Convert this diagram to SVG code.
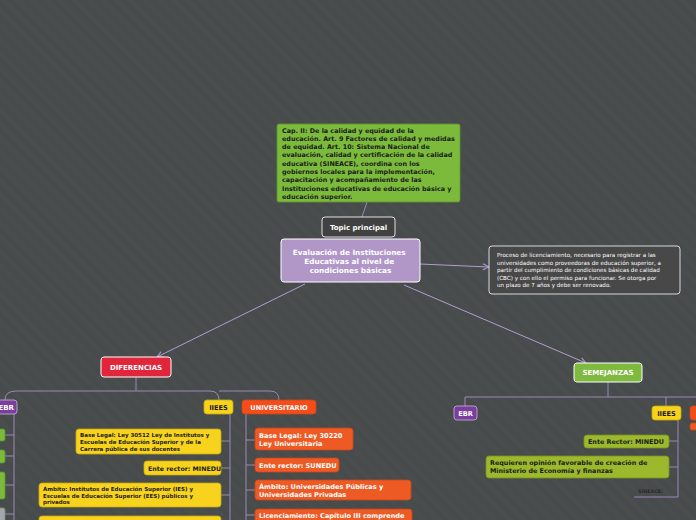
<svg xmlns="http://www.w3.org/2000/svg" width="696" height="520" viewBox="0 0 696 520">
<defs>
<pattern id="bg" width="10" height="10" patternUnits="userSpaceOnUse" patternTransform="rotate(-45)">
<rect width="10" height="10" fill="#474b4c"/>
<rect width="5" height="10" fill="#494d4e"/>
</pattern>
<marker id="arr" markerWidth="8" markerHeight="8" refX="7" refY="4" orient="auto" markerUnits="userSpaceOnUse">
<path d="M1,1 L7,4 L1,7" fill="none" stroke="#b39cd0" stroke-width="1"/>
</marker>
<style>
.t{font-family:"DejaVu Sans",Verdana,sans-serif;font-weight:bold}
.r{font-family:"DejaVu Sans",Verdana,sans-serif}
.w{fill:#ffffff}
.k{fill:#1a1a1a}
.c{fill:none;stroke:#9c88b4;stroke-width:1}
.ca{fill:none;stroke:#b39cd0;stroke-width:1}
.yel{fill:#f7d31d;stroke:#c9a80e;stroke-width:0.8}
.org{fill:#ee5a24;stroke:#c8461a;stroke-width:0.8}
.grn{fill:#7cba3c;stroke:#5e9427;stroke-width:0.8}
.olv{fill:#9cb82c;stroke:#7a921b;stroke-width:0.8}
.pur{fill:#7a3e9d;stroke:#c9b6dc;stroke-width:0.8}
</style>
</defs>
<rect width="696" height="520" fill="url(#bg)"/>

<g id="connectors">
<path class="c" d="M367,202 L362,217"/>
<path class="ca" d="M420,264 L489,267" marker-end="url(#arr)"/>
<path class="ca" d="M305,284 L157,357" marker-end="url(#arr)"/>
<path class="ca" d="M404,285 L586,363" marker-end="url(#arr)"/>
<path class="c" d="M136,377 V391"/>
<path class="c" d="M5,400 Q5,391 16,391 H210 Q219,391 219,400"/>
<path class="c" d="M219,391 H270 Q279,391 279,400"/>
<path class="c" d="M14,414 V520"/>
<path class="c" d="M5,435 H14 M5,456 H14 M5,485 H14 M5,514 H14"/>
<path class="c" d="M230,414 V520"/>
<path class="c" d="M221,441 H230 M221,468 H230 M221,495 H230"/>
<path class="c" d="M246,414 V520"/>
<path class="c" d="M246,440 H255 M246,465 H255 M246,490 H255 M246,515 H255"/>
<path class="c" d="M608,382 V397"/>
<path class="c" d="M465,406 V397 H696"/>
<path class="c" d="M666,397 V406"/>
<path class="c" d="M678,420 V497 H634"/>
<path class="c" d="M669,441 H678 M669,467 H678"/>
</g>

<g id="cap">
<rect x="277" y="124" width="183" height="78" rx="2" fill="#7cba3c" stroke="#5e9427" stroke-width="0.8"/>
<text class="t k" font-size="6.4">
<tspan x="282" y="132.5">Cap. II: De la calidad y equidad de la</tspan>
<tspan x="282" y="140.8">educación. Art. 9 Factores de calidad y medidas</tspan>
<tspan x="282" y="149.1">de equidad. Art. 10: Sistema Nacional de</tspan>
<tspan x="282" y="157.4">evaluación, calidad y certificación de la calidad</tspan>
<tspan x="282" y="165.7">educativa (SINEACE), coordina con los</tspan>
<tspan x="282" y="174">gobiernos locales para la implementación,</tspan>
<tspan x="282" y="182.3">capacitación y acompañamiento de las</tspan>
<tspan x="282" y="190.6">Instituciones educativas de educación básica y</tspan>
<tspan x="282" y="198.9">educación superior.</tspan>
</text>
</g>

<g id="topic">
<rect x="322" y="217" width="73" height="20" rx="3" fill="#414141" stroke="#e0e0e0" stroke-width="1"/>
<text class="t w" font-size="7" x="358.5" y="230" text-anchor="middle">Topic principal</text>
</g>

<g id="main">
<rect x="281" y="239" width="139" height="43" rx="3" fill="#b197c8" stroke="#ffffff" stroke-width="1"/>
<text class="t w" font-size="7.3" text-anchor="middle">
<tspan x="350.5" y="255">Evaluación de Instituciones</tspan>
<tspan x="350.5" y="264">Educativas al nivel de</tspan>
<tspan x="350.5" y="273">condiciones básicas</tspan>
</text>
</g>

<g id="nota">
<rect x="489" y="246" width="191" height="48" rx="3" fill="#484848" stroke="#d8d8d8" stroke-width="1"/>
<text class="r w" font-size="5.6">
<tspan x="497" y="257">Proceso de licenciamiento, necesario para registrar a las</tspan>
<tspan x="497" y="264.5">universidades como proveedoras de educación superior, a</tspan>
<tspan x="497" y="272">partir del cumplimiento de condiciones básicas de calidad</tspan>
<tspan x="497" y="279.5">(CBC) y con ello el permiso para funcionar. Se otorga por</tspan>
<tspan x="497" y="287">un plazo de 7 años y debe ser renovado.</tspan>
</text>
</g>

<g id="diferencias">
<rect x="101" y="357" width="70" height="20" rx="3" fill="#e1253a" stroke="#ffffff" stroke-width="1"/>
<text class="t w" font-size="7" x="136" y="369.5" text-anchor="middle">DIFERENCIAS</text>
</g>

<g id="semejanzas">
<rect x="574" y="363" width="68" height="19" rx="3" fill="#80b940" stroke="#ffffff" stroke-width="1"/>
<text class="t w" font-size="7" x="608" y="375" text-anchor="middle">SEMEJANZAS</text>
</g>

<g id="ebr-dif">
<rect x="-6" y="400" width="23" height="14" rx="3" class="pur"/>
<text class="t w" font-size="7" x="14" y="410" text-anchor="end">EBR</text>
</g>
<g id="ebr-dif-1"><rect x="-6" y="429" width="11" height="12" rx="2" class="grn"/></g>
<g id="ebr-dif-2"><rect x="-6" y="450" width="11" height="13" rx="2" class="grn"/></g>
<g id="ebr-dif-3"><rect x="-6" y="472" width="11" height="27" rx="2" class="grn"/></g>
<g id="ebr-dif-4"><rect x="-6" y="508" width="11" height="16" rx="2" fill="#a3a8ab" stroke="#80868a" stroke-width="0.8"/></g>

<g id="iiees-dif">
<rect x="204" y="400" width="29" height="14" rx="3" class="yel"/>
<text class="t k" font-size="6.6" x="218.5" y="410" text-anchor="middle">IIEES</text>
</g>
<g id="iiees-dif-1">
<rect x="76" y="429" width="145" height="25" rx="3" class="yel"/>
<text class="t k" font-size="5.5">
<tspan x="80" y="437">Base Legal: Ley 30512 Ley de Institutos y</tspan>
<tspan x="80" y="444">Escuelas de Educación Superior y de la</tspan>
<tspan x="80" y="451">Carrera pública de sus docentes</tspan>
</text>
</g>
<g id="iiees-dif-2">
<rect x="144" y="461" width="77" height="14" rx="3" class="yel"/>
<text class="t k" font-size="6.3" x="148" y="470.5">Ente rector: MINEDU</text>
</g>
<g id="iiees-dif-3">
<rect x="39" y="483" width="182" height="24" rx="3" class="yel"/>
<text class="t k" font-size="5.5">
<tspan x="43" y="491">Ámbito: Institutos de Educación Superior (IES) y</tspan>
<tspan x="43" y="497.5">Escuelas de Educación Superior (EES) públicos y</tspan>
<tspan x="43" y="504">privados</tspan>
</text>
</g>
<g id="iiees-dif-4">
<rect x="39" y="516" width="182" height="10" rx="3" class="yel"/>
</g>

<g id="univ">
<rect x="242" y="400" width="74" height="14" rx="3" class="org" style="fill:#f44d1a"/>
<text class="t w" font-size="6.6" x="279" y="410" text-anchor="middle">UNIVERSITARIO</text>
</g>
<g id="univ-1">
<rect x="255" y="428" width="98" height="22" rx="3" class="org"/>
<text class="t w" font-size="6.6">
<tspan x="259" y="437.5">Base Legal: Ley 30220</tspan>
<tspan x="259" y="445.5">Ley Universitaria</tspan>
</text>
</g>
<g id="univ-2">
<rect x="255" y="458" width="84" height="14" rx="3" class="org"/>
<text class="t w" font-size="6.6" x="259" y="467.5">Ente rector: SUNEDU</text>
</g>
<g id="univ-3">
<rect x="255" y="480" width="156" height="20" rx="3" class="org"/>
<text class="t w" font-size="6.6">
<tspan x="259" y="488.5">Ámbito: Universidades Públicas y</tspan>
<tspan x="259" y="496.5">Universidades Privadas</tspan>
</text>
</g>
<g id="univ-4">
<rect x="255" y="509" width="157" height="16" rx="3" class="org"/>
<text class="t w" font-size="6.6" x="259" y="518">Licenciamiento: Capítulo III comprende</text>
</g>

<g id="ebr-sem">
<rect x="454" y="406" width="23" height="14" rx="3" class="pur"/>
<text class="t w" font-size="6.6" x="465.5" y="416" text-anchor="middle">EBR</text>
</g>
<g id="iiees-sem">
<rect x="652" y="406" width="29" height="14" rx="3" class="yel"/>
<text class="t k" font-size="6.6" x="666.5" y="416" text-anchor="middle">IIEES</text>
</g>
<g id="univ-sem">
<rect x="690" y="406" width="12" height="14" rx="3" class="org" style="fill:#f44d1a"/>
<rect x="690" y="423" width="12" height="7" rx="2" class="org"/>
</g>
<g id="iiees-sem-1">
<rect x="584" y="435" width="85" height="13" rx="3" class="olv"/>
<text class="t k" font-size="6.4" x="588" y="444">Ente Rector: MINEDU</text>
</g>
<g id="iiees-sem-2">
<rect x="486" y="456" width="183" height="22" rx="3" class="olv"/>
<text class="t k" font-size="6.4">
<tspan x="490" y="465">Requieren opinión favorable de creación de</tspan>
<tspan x="490" y="473">Ministerio de Economía y finanzas</tspan>
</text>
</g>
<g id="iiees-sem-3">
<text class="t" fill="#2a2a2a" font-size="4.8" x="638" y="493">SINEACE:</text>
</g>
</svg>
